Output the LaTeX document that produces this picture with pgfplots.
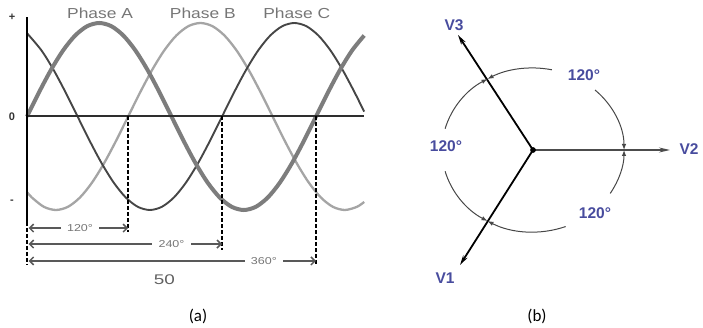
\documentclass[border=0pt]{standalone}
\usepackage{fontspec}
\setmainfont{Liberation Sans}
\newfontfamily\calibri{Carlito}
\usepackage{pgfplots}
\pgfplotsset{compat=1.18}
\usetikzlibrary{arrows.meta}

\definecolor{phaseA}{RGB}{125,125,125}
\definecolor{phaseB}{RGB}{165,165,165}
\definecolor{phaseC}{RGB}{70,70,70}
\definecolor{txtgray}{RGB}{118,118,118}
\definecolor{vblue}{RGB}{72,76,158}

\tikzset{
    dim/.style={draw=black!65, line width=1.5pt,
        {Straight Barb[length=4pt,width=8pt]}-{Straight Barb[length=4pt,width=8pt]}},
    dimlbl/.style={fill=white, inner xsep=5pt, inner ysep=1pt, xscale=1.25,
        text=txtgray, font=\fontsize{10}{10}\selectfont},
    drop/.style={black, line width=1.7pt, dash pattern=on 4pt off 2pt},
    arcl/.style={draw=black!72, line width=1pt, -{Latex[length=6pt,width=4.5pt]}},
    vlbl/.style={text=vblue, font=\fontsize{15.5}{15.5}\selectfont\bfseries},
}

\begin{document}
\begin{tikzpicture}
\useasboundingbox (0pt,0pt) rectangle (703pt,328pt);

% ---- (a) three-phase waveforms, x in electrical degrees
\begin{axis}[
    at={(27pt,118pt)}, anchor=south west,
    x=0.8028pt, y=93.5pt,
    xmin=0, xmax=420, ymin=-1, ymax=1.07,
    clip=false,
    axis line style={draw=none},
    xtick=\empty,
    ytick={-0.914,0,1.064},
    yticklabels={-,0,+},
    major tick length=0pt,
    yticklabel style={anchor=center, xshift=-15pt, text=black!80,
        font=\fontsize{11}{11}\selectfont\bfseries},
]
% Phase B (light)
\addplot[phaseB, line width=2.3pt, smooth] coordinates {
    (0,-0.809) (6,-0.866) (21,-0.966) (36,-1) (51,-0.966) (66,-0.866) (81,-0.707)
    (96,-0.5) (111,-0.259) (126,0) (141,0.259) (156,0.5) (171,0.707) (186,0.866)
    (201,0.966) (216,1) (231,0.966) (246,0.866) (261,0.707) (276,0.5) (291,0.259)
    (306,0) (321,-0.259) (336,-0.5) (351,-0.707) (366,-0.866) (381,-0.966)
    (396,-1) (411,-0.966) (420,-0.914)
};
% Phase C (dark)
\addplot[phaseC, line width=1.9pt, smooth] coordinates {
    (0,0.891) (18,0.707) (33,0.5) (48,0.259) (63,0) (78,-0.259) (93,-0.5)
    (108,-0.707) (123,-0.866) (138,-0.966) (153,-1) (168,-0.966) (183,-0.866)
    (198,-0.707) (213,-0.5) (228,-0.259) (243,0) (258,0.259) (273,0.5) (288,0.707)
    (303,0.866) (318,0.966) (333,1) (348,0.966) (363,0.866) (378,0.707) (393,0.5)
    (408,0.259) (420,0.052)
};
% Phase A (thick)
\addplot[phaseA, line width=4pt, smooth] coordinates {
    (0,0) (15,0.259) (30,0.5) (45,0.707) (60,0.866) (75,0.966) (90,1) (105,0.966)
    (120,0.866) (135,0.707) (150,0.5) (165,0.259) (180,0) (195,-0.259) (210,-0.5)
    (225,-0.707) (240,-0.866) (255,-0.966) (270,-1) (285,-0.966) (300,-0.866)
    (315,-0.707) (330,-0.5) (345,-0.259) (360,0) (375,0.259) (390,0.5) (405,0.707)
    (420,0.866)
};
% axes
\addplot[black!82, line width=2pt] coordinates {(0,0) (420,0)};
\addplot[black, line width=2.2pt] coordinates {(0,1.064) (0,-1.128)};
\addplot[drop] coordinates {(0,-1.128) (0,-1.59)};
% drop lines at the zero crossings
\addplot[drop] coordinates {(126,0) (126,-1.235)};
\addplot[drop] coordinates {(243,0) (243,-1.428)};
\addplot[drop] coordinates {(360,0) (360,-1.59)};
% dimension arrows
\addplot[dim] coordinates {(2,-1.193) (126,-1.193)};
\addplot[dim] coordinates {(2,-1.364) (243,-1.364)};
\addplot[dim] coordinates {(2,-1.545) (360,-1.545)};
\node[dimlbl] at (axis cs:66,-1.193) {120°};
\node[dimlbl] at (axis cs:180,-1.364) {240°};
\node[dimlbl] at (axis cs:295,-1.545) {360°};
\node[text=black!62, xscale=1.35, font=\fontsize{14}{14}\selectfont]
    at (axis cs:171,-1.749) {50};
% phase names
\node[text=txtgray, xscale=1.2, font=\fontsize{14.5}{14.5}\selectfont]
    at (axis cs:91,1.107) {Phase A};
\node[text=txtgray, xscale=1.2, font=\fontsize{14.5}{14.5}\selectfont]
    at (axis cs:219,1.107) {Phase B};
\node[text=txtgray, xscale=1.2, font=\fontsize{14.5}{14.5}\selectfont]
    at (axis cs:336,1.107) {Phase C};
\end{axis}

% ---- (b) phasor diagram, units in pt around the star point
\begin{axis}[
    at={(423pt,48pt)}, anchor=south west,
    x=1pt, y=1pt,
    xmin=-110, xmax=170, ymin=-130, ymax=130,
    hide axis, clip=false,
]
\addplot[black!70, line width=1.3pt, -{Stealth[length=11pt,width=5pt]}]
    coordinates {(0,0) (137,0)};
\addplot[black, line width=1.8pt, -{Stealth[length=10pt,width=5pt]}]
    coordinates {(0,0) (-75,115)};
\addplot[black, line width=1.8pt, -{Stealth[length=10pt,width=5pt]}]
    coordinates {(0,0) (-73,-115)};
\addplot[black, only marks, mark=*, mark size=2.6pt] coordinates {(0,0)};

\draw[arcl] (axis cs:0,0) ++(78:91pt and 82pt)
    arc[start angle=78, end angle=120, x radius=91pt, y radius=82pt];
\draw[arcl] (axis cs:0,0) ++(165:91pt and 82pt)
    arc[start angle=165, end angle=120, x radius=91pt, y radius=82pt];
\draw[arcl] (axis cs:0,0) ++(47:91pt and 82pt)
    arc[start angle=47, end angle=0, x radius=91pt, y radius=82pt];
\draw[arcl] (axis cs:0,0) ++(-32:91pt and 82pt)
    arc[start angle=-32, end angle=0, x radius=91pt, y radius=82pt];
\draw[arcl] (axis cs:0,0) ++(291:91pt and 82pt)
    arc[start angle=291, end angle=240, x radius=91pt, y radius=82pt];
\draw[arcl] (axis cs:0,0) ++(195:91pt and 82pt)
    arc[start angle=195, end angle=240, x radius=91pt, y radius=82pt];

\node[vlbl] at (axis cs:-79,125) {V3};
\node[vlbl] at (axis cs:156,1) {V2};
\node[vlbl] at (axis cs:-88,-128) {V1};
\node[vlbl] at (axis cs:51,75) {120°};
\node[vlbl] at (axis cs:62,-63) {120°};
\node[vlbl] at (axis cs:-87,4) {120°};
\end{axis}

\node[font=\calibri\fontsize{17}{17}\selectfont] at (198pt,12pt) {(a)};
\node[font=\calibri\fontsize{17}{17}\selectfont] at (537pt,12pt) {(b)};
\end{tikzpicture}
\end{document}
